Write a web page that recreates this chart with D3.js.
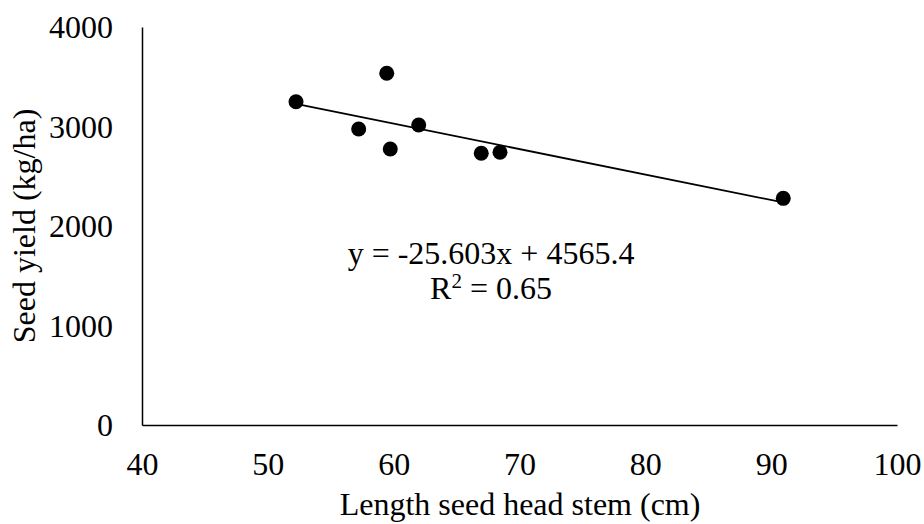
<!DOCTYPE html>
<html>
<head>
<meta charset="utf-8">
<script src="https://cdn.jsdelivr.net/npm/d3@7"></script>
<style>
	body { margin: 0; background: #fff; }
	svg { display: block; }
</style>
</head>
<body>
<svg id="chart" width="924" height="524"></svg>
<script>
// stem length (cm) and seed yield (kg/ha)
var stemLength = [52.24, 59.45, 57.22, 61.99, 59.73, 66.96, 68.45, 90.96];
var seedYield = [3249, 3535, 2975, 3015, 2774, 2731, 2741, 2278];
var xTicks = [40, 50, 60, 70, 80, 90, 100];
var yTicks = [0, 1000, 2000, 3000, 4000];
var trendSlope = -25.603;
var trendIntercept = 4565.4;
var rSquared = "0.65";

var font = "'Liberation Serif','Times New Roman',serif";

var svg = d3.select("#chart");

var x = d3.scaleLinear()
	.domain([40, 100])
	.range([142, 897]);
var y = d3.scaleLinear()
	.domain([0, 4000])
	.range([425, 27]);

var points = stemLength.map(function(v, i){
	return {x: v, y: seedYield[i]};
});

// axes: plain lines, no tick marks
var xAxis = d3.axisBottom(x).tickValues(xTicks).tickFormat(d3.format("d")).tickSize(0).tickPadding(27);
var yAxis = d3.axisLeft(y).tickValues(yTicks).tickFormat(d3.format("d")).tickSize(0).tickPadding(29);

var gx = svg.append("g")
	.attr("transform", "translate(0," + y(0) + ")")
	.call(xAxis);
var gy = svg.append("g")
	.attr("transform", "translate(" + x(40) + ",0)")
	.call(yAxis);

[gx, gy].forEach(function(g){
	g.select(".domain")
		.attr("stroke", "#000")
		.attr("stroke-width", 1.5);
	g.selectAll("text")
		.attr("fill", "#000")
		.style("font-family", font)
		.style("font-size", "32px");
});
gy.selectAll("text").attr("dy", "0.34em");
gx.selectAll("text").attr("dy", "0.71em");

// trendline over the data range
var xr = d3.extent(stemLength);
svg.append("path")
	.datum(xr)
	.attr("fill", "none")
	.attr("stroke", "#000")
	.attr("stroke-width", 1.8)
	.attr("d", d3.line()
		.x(function(d){ return x(d); })
		.y(function(d){ return y(trendSlope * d + trendIntercept); }));

svg.append("g")
	.selectAll("circle")
	.data(points)
	.enter().append("circle")
		.attr("cx", function(d){ return x(d.x); })
		.attr("cy", function(d){ return y(d.y); })
		.attr("r", 7.5)
		.attr("fill", "#000");

// equation labels
var eq = svg.append("g")
	.attr("font-family", font)
	.attr("font-size", 32)
	.attr("fill", "#000")
	.attr("text-anchor", "middle");
eq.append("text")
	.attr("x", 491)
	.attr("y", 264)
	.text("y = " + trendSlope + "x + " + trendIntercept);
var r2 = eq.append("text")
	.attr("x", 491)
	.attr("y", 299);
r2.append("tspan").text("R");
r2.append("tspan").attr("font-size", 21).attr("dy", -11).text("2");
r2.append("tspan").attr("dy", 11).text(" = " + rSquared);

// axis titles
svg.append("text")
	.attr("x", 520)
	.attr("y", 515)
	.attr("text-anchor", "middle")
	.attr("font-family", font)
	.attr("font-size", 32)
	.attr("fill", "#000")
	.text("Length seed head stem (cm)");
svg.append("text")
	.attr("transform", "translate(35,226) rotate(-90)")
	.attr("text-anchor", "middle")
	.attr("font-family", font)
	.attr("font-size", 32)
	.attr("fill", "#000")
	.text("Seed yield (kg/ha)");
</script>
</body>
</html>
